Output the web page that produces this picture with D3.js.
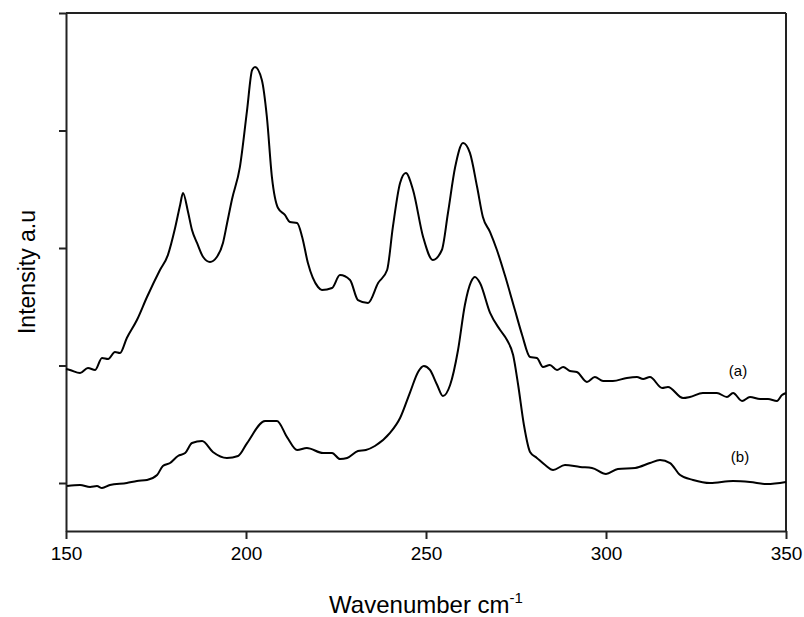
<!DOCTYPE html>
<html>
<head>
<meta charset="utf-8">
<script src="https://cdn.jsdelivr.net/npm/d3@7"></script>
<style>
  body { margin: 0; background: #fff; }
  text { font-family: "Liberation Sans", Arial, sans-serif; fill: #000; }
</style>
</head>
<body>
<div id="chart"></div>
<script>
// spectrum (a), upper trace
var waveA = [150.0,151.1,153.9,156.1,158.1,160.0,161.7,163.6,165.0,166.9,169.7,172.5,176.1,178.3,180.3,181.7,182.5,183.9,185.0,186.4,188.1,190.0,191.9,193.6,194.7,196.1,198.3,200.3,201.7,202.5,204.4,205.8,207.2,208.9,210.8,212.2,214.2,215.6,217.2,220.0,221.1,223.9,226.1,228.9,231.1,233.9,236.7,239.2,240.8,242.8,244.4,246.4,249.2,251.9,254.4,256.1,258.1,260.3,262.2,264.2,265.8,267.8,269.7,271.9,274.7,276.7,278.9,280.8,282.5,284.4,286.4,288.1,290.0,291.9,294.7,296.9,299.2,301.9,305.8,308.6,310.3,312.2,315.6,317.2,321.4,323.3,326.9,330.8,333.6,335.3,337.8,340.0,342.8,345.0,347.5,348.9,350.0];
var intA = [0.970,0.962,0.936,0.979,0.962,1.064,1.055,1.115,1.106,1.234,1.387,1.583,1.813,1.94,2.17,2.366,2.468,2.306,2.153,2.043,1.923,1.881,1.923,2.043,2.204,2.413,2.689,3.174,3.515,3.540,3.430,3.115,2.604,2.340,2.281,2.221,2.213,2.094,1.872,1.668,1.643,1.660,1.770,1.728,1.557,1.532,1.702,1.813,2.179,2.553,2.638,2.494,2.094,1.898,1.983,2.298,2.689,2.894,2.809,2.519,2.264,2.136,1.983,1.770,1.472,1.260,1.072,1.064,0.987,1.004,0.962,0.987,0.953,0.945,0.860,0.902,0.868,0.868,0.894,0.902,0.885,0.902,0.809,0.817,0.723,0.732,0.766,0.766,0.732,0.766,0.698,0.732,0.715,0.715,0.698,0.749,0.766];

// spectrum (b), lower trace
var waveB = [150.3,153.9,156.7,158.6,160.0,162.2,166.9,169.7,172.5,175.3,176.9,178.9,181.1,183.1,185.0,187.8,190.8,194.7,197.8,200.3,205.3,208.6,211.4,214.2,216.9,221.4,223.9,226.1,228.1,231.1,233.3,235.8,240.0,242.8,245.6,247.8,249.4,251.1,253.1,254.7,256.7,258.9,260.8,262.5,263.6,265.0,267.8,270.6,272.5,274.2,275.6,277.2,278.9,280.8,283.1,285.3,288.6,292.8,296.1,300.0,303.3,308.1,312.2,315.0,317.8,320.6,324.2,328.9,335.3,340.0,344.7,350.0];
var intB = [-0.026,-0.017,-0.034,-0.026,-0.043,-0.017,0.000,0.017,0.026,0.068,0.145,0.170,0.230,0.255,0.340,0.357,0.264,0.213,0.230,0.340,0.528,0.528,0.391,0.281,0.298,0.255,0.255,0.204,0.213,0.272,0.281,0.315,0.426,0.553,0.774,0.945,0.996,0.962,0.834,0.740,0.834,1.132,1.515,1.711,1.753,1.702,1.447,1.302,1.217,1.089,0.834,0.494,0.264,0.213,0.153,0.111,0.153,0.136,0.128,0.077,0.119,0.128,0.170,0.196,0.170,0.068,0.026,0.000,0.017,0.009,-0.009,0.009];

var xTicks = [150, 200, 250, 300, 350];
var yTicks = [0, 1, 2, 3, 4];

var width = 804, height = 617;
var plotL = 66, plotR = 786, plotT = 13, plotB = 531;

var svg = d3.select("#chart").append("svg").attr("width", width).attr("height", height);

var x = d3.scaleLinear().domain([150, 350]).range([plotL, plotR]);
var y = d3.scaleLinear().domain([-48 / 117.5, 4]).range([plotB, plotT]);

// frame: top and right edges
svg.append("line").attr("x1", plotL).attr("x2", plotR).attr("y1", plotT).attr("y2", plotT)
  .attr("stroke", "#222").attr("stroke-width", 2);
svg.append("line").attr("x1", plotR).attr("x2", plotR).attr("y1", plotT).attr("y2", plotB)
  .attr("stroke", "#222").attr("stroke-width", 2);

var xAxis = svg.append("g").attr("transform", "translate(0," + plotB + ")")
  .call(d3.axisBottom(x).tickValues(xTicks).tickSize(8).tickSizeOuter(0).tickPadding(8));
xAxis.selectAll("text").style("font-size", "19px").attr("dy", "0.71em");

var yAxis = svg.append("g").attr("transform", "translate(" + plotL + ",0)")
  .call(d3.axisLeft(y).tickValues(yTicks).tickFormat("").tickSize(7).tickSizeOuter(0));

svg.selectAll(".domain, .tick line").attr("stroke", "#222").attr("stroke-width", 2);

var line = d3.line()
  .x(function(d) { return x(d[0]); })
  .y(function(d) { return y(d[1]); })
  .curve(d3.curveMonotoneX);

svg.append("path").datum(d3.zip(waveA, intA)).attr("d", line)
  .attr("fill", "none").attr("stroke", "#000").attr("stroke-width", 2);
svg.append("path").datum(d3.zip(waveB, intB)).attr("d", line)
  .attr("fill", "none").attr("stroke", "#000").attr("stroke-width", 2);

// trace labels
svg.append("text").attr("x", 738).attr("y", 376).attr("text-anchor", "middle")
  .style("font-size", "15px").text("(a)");
svg.append("text").attr("x", 740).attr("y", 462).attr("text-anchor", "middle")
  .style("font-size", "15px").text("(b)");

// axis titles
var xt = svg.append("text").attr("x", 426).attr("y", 613).attr("text-anchor", "middle")
  .style("font-size", "24px");
xt.append("tspan").text("Wavenumber cm");
xt.append("tspan").attr("dy", -10).style("font-size", "15px").text("-1");

svg.append("text").attr("transform", "translate(35,272) rotate(-90)")
  .attr("text-anchor", "middle").style("font-size", "23px").text("Intensity a.u");
</script>
</body>
</html>
